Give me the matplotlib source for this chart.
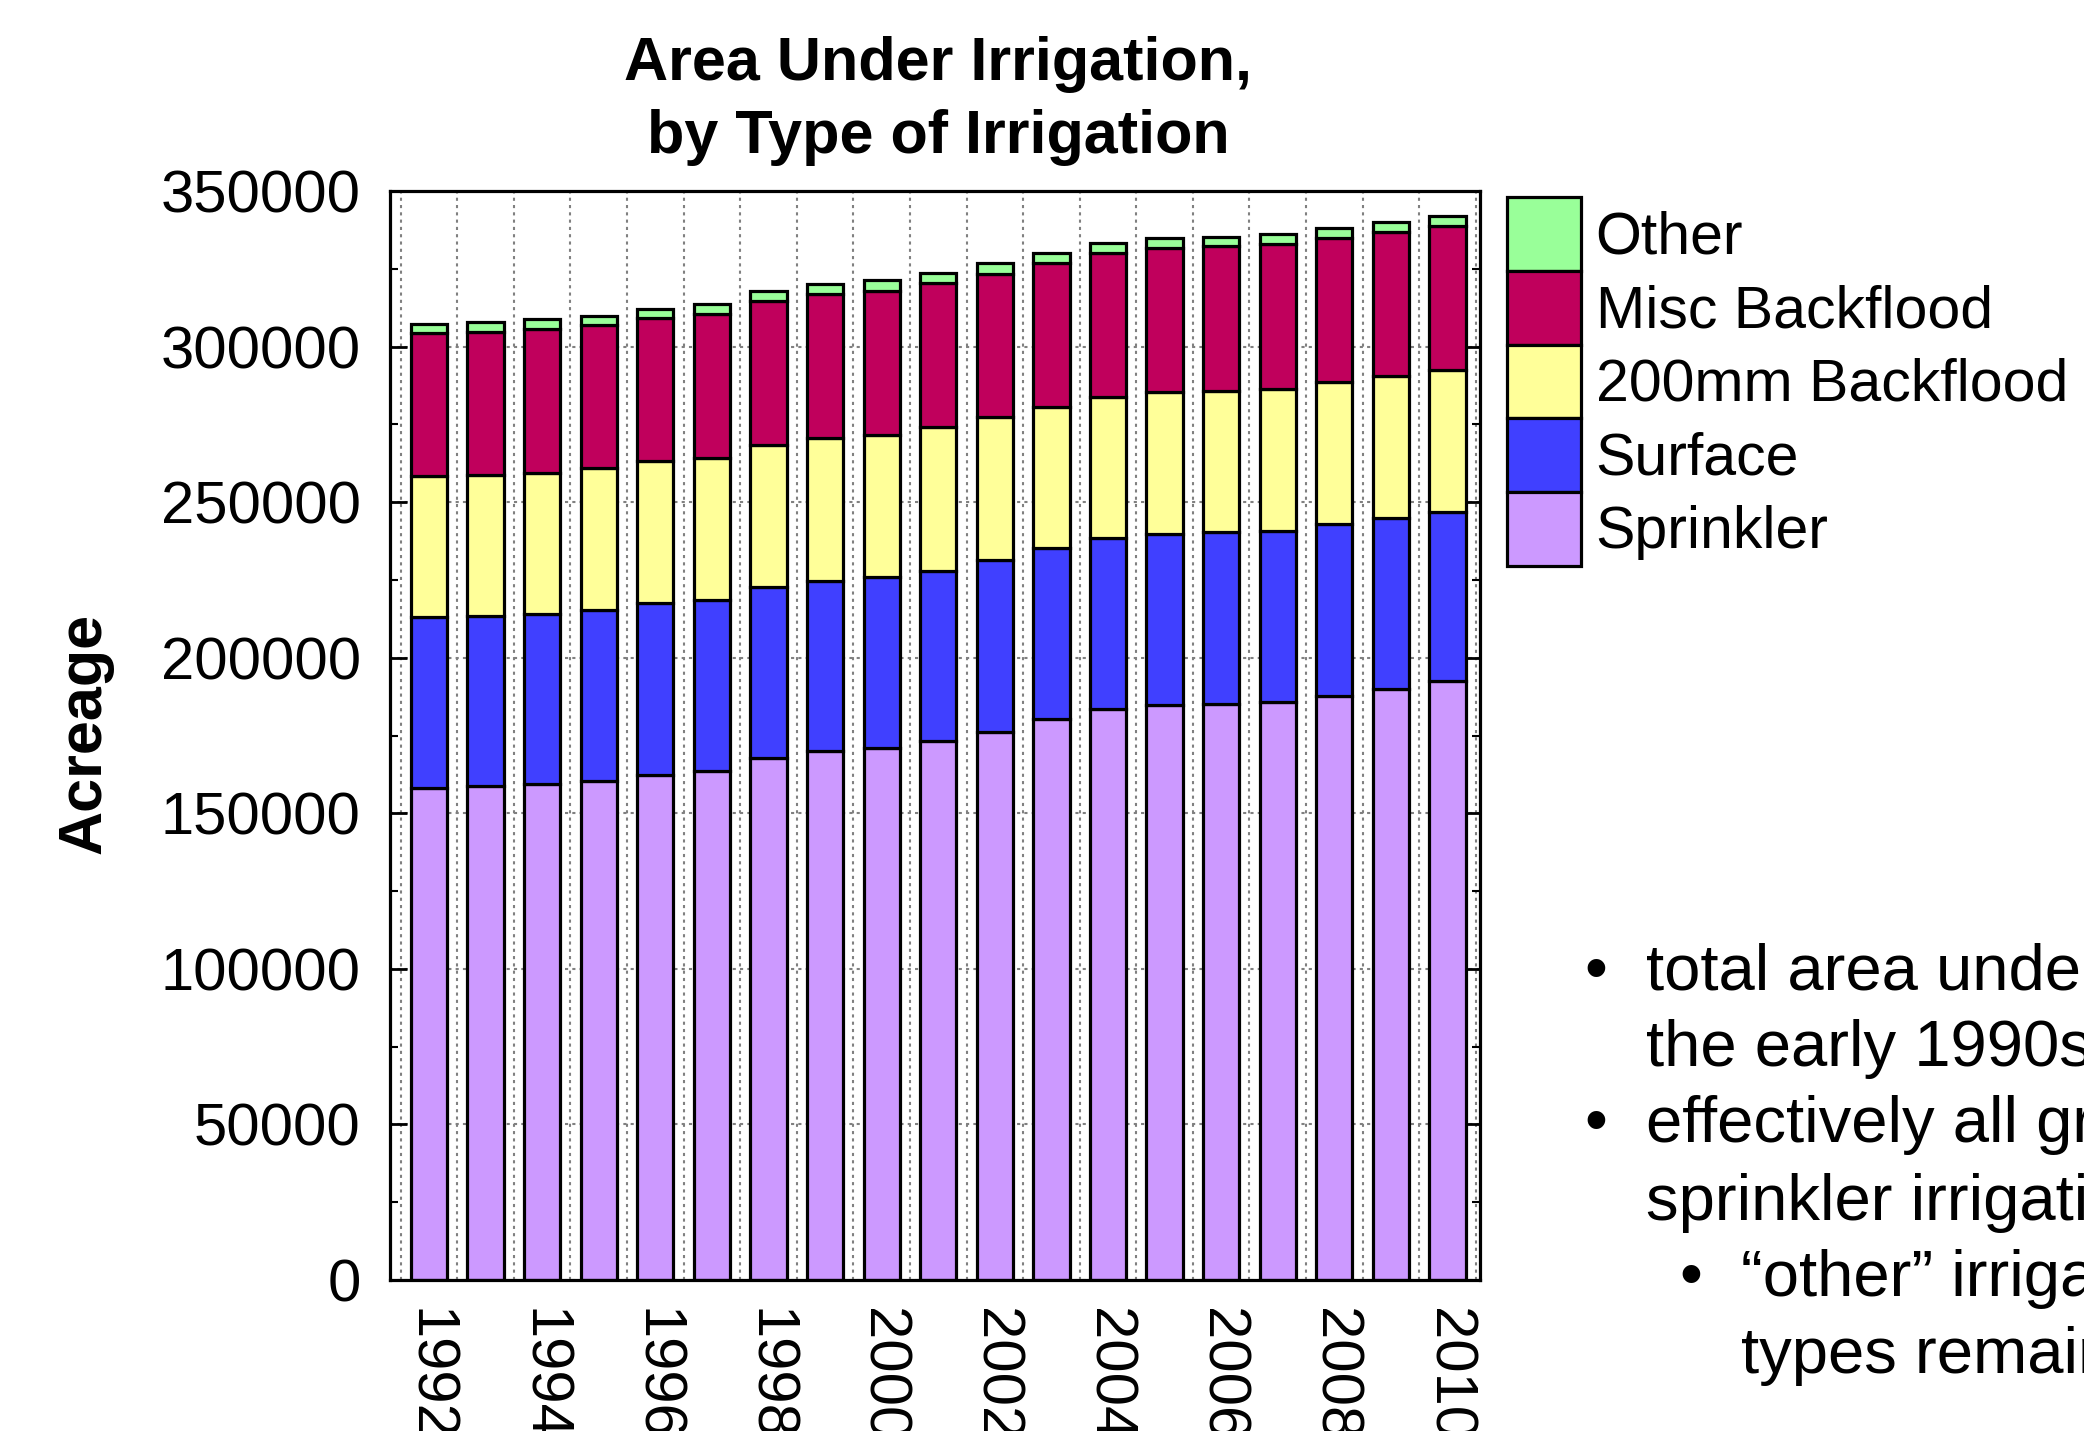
import matplotlib
matplotlib.use("Agg")
import matplotlib.pyplot as plt
import numpy as np
from matplotlib.ticker import FixedLocator, MultipleLocator

plt.rcParams['font.family'] = ['Liberation Sans', 'DejaVu Sans']

years = list(range(1992, 2011))
sprinkler = [158000, 158800, 159400, 160500, 162300, 163600, 167700, 170100, 171100, 173200,
             176200, 180200, 183400, 184800, 185100, 185900, 187800, 189800, 192500]
surface = [55000, 54600, 54500, 54800, 55200, 54900, 55100, 54600, 54700, 54800,
           55200, 55000, 55200, 55000, 55200, 54900, 55200, 55200, 54400]
backflood_200mm = [45400, 45300, 45600, 45600, 45800, 45800, 45600, 46000, 45800, 46100,
                   45900, 45500, 45300, 45500, 45500, 45600, 45700, 45500, 45600]
misc_backflood = [45900, 46100, 46000, 46000, 46000, 46100, 46300, 46200, 46300, 46200,
                  46000, 46300, 46300, 46500, 46500, 46500, 46100, 46400, 46400]
other = [3000, 3100, 3400, 2900, 2800, 3200, 3100, 3100, 3500, 3300,
         3500, 3200, 3200, 3000, 3000, 3300, 3400, 3200, 3100]

series = [("Sprinkler", sprinkler, "#CC99FF"),
          ("Surface", surface, "#4040FF"),
          ("200mm Backflood", backflood_200mm, "#FFFF99"),
          ("Misc Backflood", misc_backflood, "#C0005C"),
          ("Other", other, "#99FF99")]

W, H = 2084, 1431
fig = plt.figure(figsize=(W / 100, H / 100), dpi=100)
ax = fig.add_axes([390 / W, 1 - 1280 / H, (1480 - 390) / W, (1280 - 191) / H])

x = np.arange(len(years))
bottom = np.zeros(len(years))
handles = []
for name, vals, col in series:
    v = np.array(vals, dtype=float)
    b = ax.bar(x, v, width=0.64, bottom=bottom, color=col, edgecolor="black",
               linewidth=2.3, label=name, zorder=3)
    handles.append(b)
    bottom += v

ax.set_xlim(-0.689, 18.574)
ax.set_ylim(0, 350000)

# x ticks: labels every other year, grid between bars
ax.xaxis.set_major_locator(FixedLocator(x[::2]))
ax.set_xticklabels([str(y) for y in years[::2]], rotation=-90)
ax.xaxis.set_minor_locator(FixedLocator(np.arange(-0.5, 19, 1.0)))
ax.tick_params(axis='x', which='both', length=0, labelsize=43, pad=20)
ax.grid(True, axis='x', which='minor', linestyle=(0, (1.5, 2.0)), color='#808080',
        linewidth=1.5, zorder=0)

# y ticks
ax.yaxis.set_major_locator(MultipleLocator(50000))
ax.yaxis.set_minor_locator(MultipleLocator(25000))
ax.tick_params(axis='y', which='major', direction='in', length=12, width=2,
               labelsize=43, pad=21, right=True)
ax.tick_params(axis='y', which='minor', direction='in', length=6, width=1.5, right=True)
ax.grid(True, axis='y', which='major', linestyle=(0, (1.5, 2.0)), color='#808080',
        linewidth=1.5, zorder=0)
ax.set_axisbelow(True)

for s in ax.spines.values():
    s.set_linewidth(2.3)
    s.set_zorder(5)

# title and y label
fig.text(938 / W, 1 - 80 / H, "Area Under Irrigation,", ha='center', va='baseline',
         fontsize=44, fontweight='bold')
fig.text(938 / W, 1 - 153 / H, "by Type of Irrigation", ha='center', va='baseline',
         fontsize=44, fontweight='bold')
fig.text(85 / W, 1 - 733 / H, "Acreage", rotation=90, ha='center', va='center',
         fontsize=44, fontweight='bold')

# legend (reverse order: Other on top)
leg = fig.legend(handles[::-1], [s[0] for s in series][::-1],
                 loc='upper left', bbox_to_anchor=(1507 / W, 1 - 197 / H),
                 frameon=False, fontsize=42.5, handlelength=1.25, handleheight=1.546,
                 labelspacing=0.0, borderpad=0.0, borderaxespad=0.0, handletextpad=0.25)

# bullet text on the right
bullet_lines = [
    (1596, 1646, 990, "total area under irrigation has grown since", True),
    (1596, 1646, 1066, "the early 1990s", False),
    (1596, 1646, 1142, "effectively all growth has been in", True),
    (1596, 1646, 1220, "sprinkler irrigation", False),
    (1691, 1741, 1296, "\u201cother\u201d irrigation", True),
    (1691, 1741, 1373, "types remain constant", False),
]
for bx, tx, by, txt, has_bullet in bullet_lines:
    if has_bullet:
        fig.text(bx / W, 1 - by / H, "\u2022", ha='center', va='baseline', fontsize=47)
    fig.text(tx / W, 1 - by / H, txt, ha='left', va='baseline', fontsize=47)

fig.savefig("out.png", dpi=100)
